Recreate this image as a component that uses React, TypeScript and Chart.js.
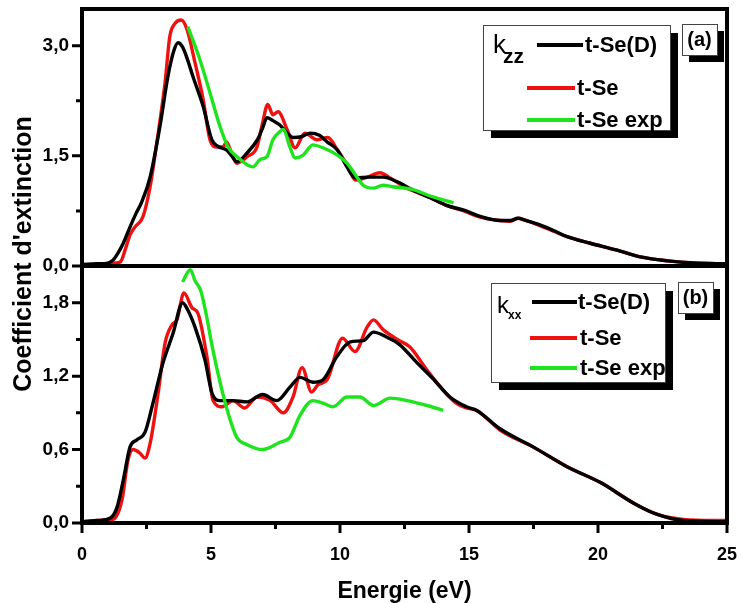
import React, { useEffect, useRef } from 'react';
import { Chart, registerables } from 'chart.js';

Chart.register(...registerables);

const FONT = '"Liberation Sans", Arial, Helvetica, sans-serif';

// ---- k_zz (panel a) ----
const kzzTheoryDX = [0, 0.6, 1.0, 1.2, 1.4, 1.6, 1.86, 2.1, 2.3, 2.64, 3.02, 3.33, 3.55, 3.72, 3.9, 4.1, 4.3, 4.7, 5.03, 5.27, 5.6, 5.8, 6.0, 6.4, 6.8, 7.0, 7.17, 7.4, 7.67, 7.95, 8.2, 8.5, 8.84, 9.2, 9.5, 9.9, 10.27, 10.6, 11.16, 11.67, 12.2, 12.8, 13.5, 14.1, 14.8, 15.4, 16.2, 16.6, 16.9, 17.2, 17.75, 18.3, 18.8, 19.7, 20.7, 21.7, 22.7, 23.7, 25];
const kzzTheoryDY = [0.02, 0.03, 0.04, 0.08, 0.18, 0.31, 0.53, 0.72, 0.86, 1.21, 1.9, 2.58, 2.92, 3.04, 2.98, 2.8, 2.58, 2.17, 1.72, 1.63, 1.58, 1.5, 1.42, 1.54, 1.72, 1.88, 2.02, 1.98, 1.92, 1.81, 1.75, 1.76, 1.81, 1.78, 1.69, 1.58, 1.35, 1.2, 1.21, 1.21, 1.15, 1.04, 0.93, 0.83, 0.76, 0.68, 0.62, 0.62, 0.65, 0.62, 0.56, 0.48, 0.4, 0.31, 0.22, 0.12, 0.07, 0.04, 0.03];

const kzzTheoryX = [0, 0.6, 1.0, 1.3, 1.5, 1.7, 1.86, 2.05, 2.36, 2.64, 2.9, 3.22, 3.4, 3.6, 3.85, 4.07, 4.38, 4.7, 4.96, 5.23, 5.47, 5.6, 5.75, 6.0, 6.4, 6.78, 7.0, 7.2, 7.4, 7.6, 7.95, 8.26, 8.64, 9.1, 9.53, 9.9, 10.27, 10.6, 11.05, 11.55, 11.94, 12.6, 13.5, 14.1, 14.8, 15.4, 16.2, 16.6, 16.9, 17.2, 17.75, 18.3, 18.8, 19.7, 20.7, 21.7, 22.7, 23.7, 25];
const kzzTheoryY = [0.01, 0.02, 0.03, 0.04, 0.06, 0.25, 0.42, 0.53, 0.67, 1.08, 1.68, 2.5, 3.12, 3.3, 3.35, 3.22, 2.77, 2.26, 1.72, 1.62, 1.62, 1.69, 1.58, 1.4, 1.49, 1.62, 1.95, 2.2, 2.06, 2.1, 1.86, 1.61, 1.81, 1.72, 1.75, 1.58, 1.38, 1.17, 1.21, 1.27, 1.2, 1.06, 0.93, 0.83, 0.75, 0.67, 0.62, 0.61, 0.65, 0.62, 0.55, 0.47, 0.4, 0.31, 0.22, 0.12, 0.07, 0.04, 0.03];

const kzzExpX = [4.1, 4.57, 4.96, 5.35, 5.66, 6.0, 6.4, 6.63, 6.9, 7.17, 7.4, 7.67, 7.8, 8.06, 8.26, 8.57, 8.95, 9.34, 9.9, 10.27, 10.6, 10.9, 11.28, 11.67, 12.05, 12.83, 13.6, 14.4];
const kzzExpY = [3.26, 2.81, 2.36, 1.9, 1.62, 1.49, 1.38, 1.35, 1.45, 1.49, 1.72, 1.83, 1.86, 1.62, 1.47, 1.51, 1.65, 1.61, 1.51, 1.4, 1.24, 1.1, 1.06, 1.1, 1.08, 1.04, 0.94, 0.86];

// ---- k_xx (panel b) ----
const kxxTheoryDX = [0, 0.6, 1.1, 1.36, 1.6, 1.86, 2.13, 2.44, 2.75, 3.14, 3.53, 3.9, 4.1, 4.38, 4.77, 5.04, 5.35, 5.85, 6.4, 7.0, 7.55, 8.06, 8.45, 8.95, 9.34, 9.88, 10.4, 10.9, 11.3, 11.8, 12.3, 12.98, 13.6, 14.26, 14.9, 15.3, 16.2, 17.5, 18.8, 20.1, 21.4, 22.3, 23.3, 25];
const kxxTheoryDY = [0.01, 0.02, 0.04, 0.13, 0.35, 0.62, 0.68, 0.74, 0.98, 1.31, 1.55, 1.8, 1.74, 1.6, 1.33, 1.06, 1.0, 1.0, 0.99, 1.05, 1.0, 1.11, 1.19, 1.15, 1.17, 1.36, 1.48, 1.49, 1.56, 1.52, 1.46, 1.31, 1.18, 1.03, 0.95, 0.92, 0.77, 0.62, 0.46, 0.33, 0.16, 0.07, 0.02, 0.01];

const kxxTheoryX = [0, 0.6, 1.2, 1.55, 1.78, 1.98, 2.25, 2.44, 2.64, 2.95, 3.22, 3.49, 3.68, 3.95, 4.26, 4.5, 4.84, 5.08, 5.43, 5.85, 6.3, 6.78, 7.3, 7.8, 8.18, 8.53, 8.9, 9.15, 9.5, 10.1, 10.58, 11.05, 11.3, 11.67, 12.3, 12.7, 13.37, 13.9, 14.5, 14.9, 15.3, 16.2, 17.5, 18.8, 20.1, 21.4, 22.3, 23.3, 25];
const kxxTheoryY = [0.01, 0.02, 0.03, 0.19, 0.51, 0.6, 0.57, 0.53, 0.65, 1.06, 1.47, 1.62, 1.66, 1.88, 1.76, 1.71, 1.36, 1.0, 0.95, 1.0, 0.94, 1.03, 1.0, 0.9, 1.03, 1.27, 1.07, 1.13, 1.17, 1.51, 1.4, 1.6, 1.66, 1.58, 1.49, 1.44, 1.25, 1.11, 0.98, 0.94, 0.92, 0.76, 0.62, 0.46, 0.33, 0.16, 0.07, 0.03, 0.02];

const kxxExpX = [3.9, 4.07, 4.2, 4.38, 4.6, 4.8, 5.04, 5.35, 5.66, 6.0, 6.4, 7.0, 7.67, 8.06, 8.45, 8.95, 9.34, 9.73, 10.27, 10.78, 11.3, 11.94, 12.6, 13.37, 14.0];
const kxxExpY = [1.97, 2.04, 2.07, 1.98, 1.9, 1.72, 1.45, 1.15, 0.9, 0.7, 0.64, 0.6, 0.66, 0.7, 0.88, 1.0, 0.98, 0.95, 1.03, 1.03, 0.96, 1.02, 1.0, 0.96, 0.92];

// ---- axes ----
const energyTicks = [0, 5, 10, 15, 20, 25];
const kzzTicks = [0, 1.5, 3.0];
const kxxTicks = [0, 0.6, 1.2, 1.8];
const seriesLabels = ['t-Se(D)', 't-Se', 't-Se exp'];
const seriesColors = ['#000000', '#ee1111', '#1ee41e'];

const toPoints = (xs: number[], ys: number[]) => xs.map((x, i) => ({ x, y: ys[i] }));
const fmt = (v: number) => v.toFixed(1).replace('.', ',');

function drawLegend(
  ctx: CanvasRenderingContext2D,
  bx: number, by: number, bw: number, bh: number,
  sub: string, kSize: number, subSize: number,
  kPos: [number, number], subPos: [number, number],
  rows: { x0: number; x1: number; y: number; tx: number }[],
) {
  ctx.fillStyle = '#000';
  ctx.fillRect(bx + 8, by + 8, bw, bh);
  ctx.fillStyle = '#fff';
  ctx.fillRect(bx, by, bw, bh);
  ctx.strokeStyle = '#444';
  ctx.lineWidth = 1;
  ctx.strokeRect(bx + 0.5, by + 0.5, bw, bh);

  ctx.fillStyle = '#000';
  ctx.textAlign = 'left';
  ctx.textBaseline = 'alphabetic';
  ctx.font = `${kSize}px ${FONT}`;
  ctx.fillText('k', bx + kPos[0], by + kPos[1]);
  ctx.font = `bold ${subSize}px ${FONT}`;
  ctx.fillText(sub, bx + subPos[0], by + subPos[1]);

  ctx.font = `bold 22px ${FONT}`;
  ctx.textBaseline = 'middle';
  rows.forEach((r, i) => {
    ctx.strokeStyle = seriesColors[i];
    ctx.lineWidth = 4;
    ctx.beginPath();
    ctx.moveTo(bx + r.x0, by + r.y);
    ctx.lineTo(bx + r.x1, by + r.y);
    ctx.stroke();
    ctx.fillStyle = '#000';
    ctx.fillText(seriesLabels[i], bx + r.tx, by + r.y + 1);
  });
}

function drawTag(ctx: CanvasRenderingContext2D, bx: number, by: number, text: string) {
  const w = 35, h = 31;
  ctx.fillStyle = '#000';
  ctx.fillRect(bx + 7, by + 7, w, h);
  ctx.fillStyle = '#fff';
  ctx.fillRect(bx, by, w, h);
  ctx.strokeStyle = '#444';
  ctx.lineWidth = 1;
  ctx.strokeRect(bx + 0.5, by + 0.5, w, h);
  ctx.fillStyle = '#000';
  ctx.font = `bold 20px ${FONT}`;
  ctx.textAlign = 'center';
  ctx.textBaseline = 'middle';
  ctx.fillText(text, bx + w / 2, by + h / 2 + 1);
}

const panelDecor = {
  id: 'panelDecor',
  afterDraw(chart: any) {
    const ctx: CanvasRenderingContext2D = chart.ctx;
    const { left, right, top, bottom } = chart.chartArea;
    const xs = chart.scales.x;
    const yt = chart.scales.yt;
    const yb = chart.scales.yb;
    const mid = yt.bottom;
    ctx.save();

    // frame and panel separator
    ctx.strokeStyle = '#000';
    ctx.lineWidth = 4;
    ctx.strokeRect(left, top, right - left, bottom - top);
    ctx.beginPath();
    ctx.moveTo(left, mid);
    ctx.lineTo(right, mid);
    ctx.stroke();

    // outward tick marks, long at labelled values, short half-way between
    ctx.lineWidth = 3;
    ctx.beginPath();
    for (let i = 0; i < energyTicks.length; i++) {
      const v = energyTicks[i];
      const px = xs.getPixelForValue(v);
      ctx.moveTo(px, bottom);
      ctx.lineTo(px, bottom + 10);
      if (i < energyTicks.length - 1) {
        const pm = xs.getPixelForValue((v + energyTicks[i + 1]) / 2);
        ctx.moveTo(pm, bottom);
        ctx.lineTo(pm, bottom + 6);
      }
    }
    const yTicks = (scale: any, vals: number[]) => {
      for (let i = 0; i < vals.length; i++) {
        const py = scale.getPixelForValue(vals[i]);
        ctx.moveTo(left, py);
        ctx.lineTo(left - 10, py);
        if (i < vals.length - 1) {
          const pm = scale.getPixelForValue((vals[i] + vals[i + 1]) / 2);
          ctx.moveTo(left, pm);
          ctx.lineTo(left - 6, pm);
        }
      }
    };
    yTicks(yt, kzzTicks);
    yTicks(yb, kxxTicks);
    ctx.stroke();

    // shared vertical title
    ctx.save();
    ctx.translate(24, (top + bottom) / 2 - 12);
    ctx.rotate(-Math.PI / 2);
    ctx.font = `bold 25px ${FONT}`;
    ctx.fillStyle = '#000';
    ctx.textAlign = 'center';
    ctx.textBaseline = 'middle';
    ctx.fillText("Coefficient d'extinction", 0, 0);
    ctx.restore();

    // panel (a) legend
    drawLegend(ctx, right - 244, top + 16, 187, 105, 'zz', 26, 21, [10, 28], [20, 38], [
      { x0: 54, x1: 100, y: 20, tx: 102 },
      { x0: 44, x1: 92, y: 63, tx: 94 },
      { x0: 44, x1: 92, y: 95, tx: 94 },
    ]);
    drawTag(ctx, right - 45, top + 15, '(a)');

    // panel (b) legend
    drawLegend(ctx, right - 236, mid + 17, 174, 99, 'xx', 24, 12, [6, 30], [17, 36], [
      { x0: 41, x1: 86, y: 19, tx: 87 },
      { x0: 39, x1: 86, y: 55, tx: 89 },
      { x0: 39, x1: 86, y: 85, tx: 89 },
    ]);
    drawTag(ctx, right - 49, mid + 16, '(b)');

    ctx.restore();
  },
};

export default function App() {
  const canvasRef = useRef<HTMLCanvasElement | null>(null);

  useEffect(() => {
    const canvas = canvasRef.current;
    if (!canvas) return;

    const line = (label: string, pts: { x: number; y: number }[], color: string, axis: string) => ({
      label,
      data: pts,
      yAxisID: axis,
      borderColor: color,
      backgroundColor: color,
      borderWidth: 3.4,
      pointRadius: 0,
      cubicInterpolationMode: 'monotone' as const,
      fill: false,
    });

    const yScale = (ticks: number[], max: number, weight: number) => ({
      type: 'linear' as const,
      position: 'left' as const,
      stack: 'panels',
      stackWeight: weight,
      min: 0,
      max,
      afterBuildTicks: (s: any) => {
        s.ticks = ticks.map((value) => ({ value }));
      },
      afterFit: (s: any) => {
        s.width = 82;
        s.paddingTop = 0;
        s.paddingBottom = 0;
      },
      grid: { display: false, drawTicks: false },
      border: { display: false },
      ticks: {
        padding: 13,
        color: '#000',
        font: { family: FONT, size: 19, weight: 'bold' as const },
        callback: (v: any) => fmt(Number(v)),
      },
    });

    const chart = new Chart(canvas, {
      type: 'line',
      data: {
        datasets: [
          line(seriesLabels[2], toPoints(kzzExpX, kzzExpY), seriesColors[2], 'yt'),
          line(seriesLabels[0], toPoints(kzzTheoryDX, kzzTheoryDY), seriesColors[0], 'yt'),
          line(seriesLabels[1], toPoints(kzzTheoryX, kzzTheoryY), seriesColors[1], 'yt'),
          line(seriesLabels[2], toPoints(kxxExpX, kxxExpY), seriesColors[2], 'yb'),
          line(seriesLabels[0], toPoints(kxxTheoryDX, kxxTheoryDY), seriesColors[0], 'yb'),
          line(seriesLabels[1], toPoints(kxxTheoryX, kxxTheoryY), seriesColors[1], 'yb'),
        ],
      },
      options: {
        responsive: false,
        animation: false,
        layout: { padding: { top: 9, right: 16, left: 0, bottom: 0 } },
        plugins: { legend: { display: false }, tooltip: { enabled: false } },
        scales: {
          x: {
            type: 'linear',
            min: 0,
            max: 25,
            afterBuildTicks: (s: any) => {
              s.ticks = energyTicks.map((value) => ({ value }));
            },
            afterFit: (s: any) => {
              s.height = 80;
              s.paddingLeft = 0;
              s.paddingRight = 0;
            },
            grid: { display: false, drawTicks: false },
            border: { display: false },
            ticks: {
              padding: 21,
              maxRotation: 0,
              autoSkip: false,
              color: '#000',
              font: { family: FONT, size: 18, weight: 'bold' },
              callback: (v: any) => String(v),
            },
            title: {
              display: true,
              text: 'Energie (eV)',
              color: '#000',
              font: { family: FONT, size: 23, weight: 'bold', lineHeight: 1 },
              padding: { top: 6, bottom: 0 },
            },
          },
          yb: yScale(kxxTicks, 2.1, 1),
          yt: yScale(kzzTicks, 3.5, 1),
        },
      },
      plugins: [panelDecor],
    });

    return () => chart.destroy();
  }, []);

  return (
    <div style={{ position: 'fixed', left: 0, top: 0, width: 743, height: 603, background: '#fff' }}>
      <canvas ref={canvasRef} width={743} height={603} />
    </div>
  );
}
